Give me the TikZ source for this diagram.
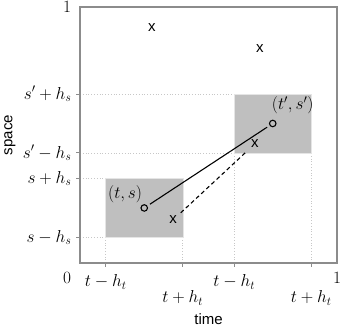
\documentclass[tikz,border=0pt]{standalone}
\usepackage{fontspec}
\setmainfont{Liberation Sans}
\usetikzlibrary{positioning}

\begin{document}
\begin{tikzpicture}[x=257pt,y=256pt,font=\fontsize{17.5}{20}\selectfont,
   frm/.style={draw=black!45,line width=1.1pt},
   tck/.style={draw=black!45,line width=0.9pt},
   grd/.style={draw=black!22,dotted,line width=0.8pt},
   win/.style={fill=black!25,draw=black!10,line width=0.5pt},
   obs/.style={circle,draw,line width=1.1pt,inner sep=0pt,minimum size=6.5pt},
   txt/.style={font=\fontsize{15}{18}\selectfont,inner sep=1pt},
   xmark/.style={txt,inner sep=3pt}]
\useasboundingbox (-80pt,-64pt) rectangle (261pt,263pt);
% grid lines down to the axes
\foreach \x/\y in {0.1/0.1,0.4/0.1,0.6/0.43,0.9/0.43} {
   \draw[grd] (\x,0) -- (\x,\y);
}
\foreach \y/\x in {0.1/0.1,0.33/0.1,0.43/0.6,0.66/0.6} {
   \draw[grd] (0,\y) -- (\x,\y);
}
% windows
\draw[win] (0.1,0.1) rectangle (0.4,0.33);
\draw[win] (0.6,0.43) rectangle (0.9,0.66);
% frame and ticks
\draw[frm] (0,0) rectangle (1,1);
\foreach \x/\l/\d [count=\i] in {0.1/{t-h_t}/24,0.4/{t+h_t}/40,0.6/{t-h_t}/24,0.9/{t+h_t}/40} {
   \draw[tck] (\x,0) -- ++(0,-4pt);
   \node[anchor=base] (xl\i) at ([yshift=-\d pt]\x,0) {$\l$};
}
\foreach \y/\l [count=\i] in {0.1/{s-h_s},0.33/{s+h_s},0.43/{s'-h_s},0.66/{s'+h_s}} {
   \draw[tck] (0,\y) -- ++(-4pt,0);
   \node[anchor=east] (yl\i) at ([xshift=-5pt]0,\y) {$\l$};
}
\node (zero) at ([xshift=-13pt,yshift=-15pt]0,0) {$0$};
\node (oneT) at ([xshift=-13pt]0,1) {$1$};
\node (oneX) at ([yshift=-15pt]1,0) {$1$};
\node[txt] (time) at ([yshift=-56pt]0.5,0) {time};
\node[txt,rotate=90] (space) at ([xshift=-70pt]0,0.5) {space};
% points
\node[obs] (ts) at (0.25,0.215) {};
\node[obs] (tsp) at (0.75,0.545) {};
\node[above left=-1pt and -4pt of ts] (tsl) {$(t,s)$};
\node[above right=3pt and -7pt of tsp] (tspl) {$(t',s')$};
\node[xmark] (xa) at (0.28,0.918) {x};
\node[xmark] (xb) at (0.70,0.836) {x};
\node[xmark] (xc) at (0.68,0.465) {x};
\node[xmark] (xd) at (0.362,0.168) {x};
\draw[line width=1.1pt,shorten <=3pt,shorten >=3pt] (ts) -- (tsp);
\draw[line width=1.1pt,dash pattern=on 4pt off 3pt,shorten <=1pt,shorten >=2pt] (xd) -- (xc);
\end{tikzpicture}
\end{document}
